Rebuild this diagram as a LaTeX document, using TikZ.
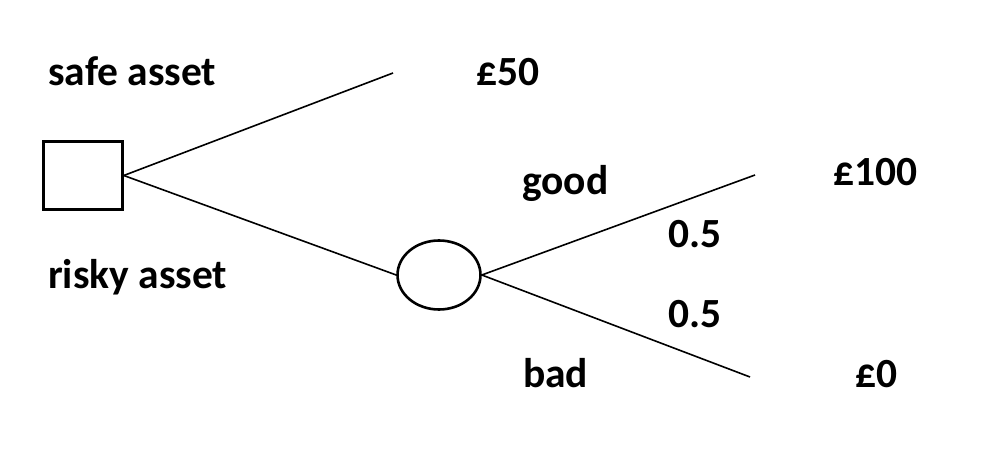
\documentclass[tikz,border=0pt]{standalone}
\usepackage{fontspec}
\setmainfont{Carlito}
\usetikzlibrary{shapes.geometric}
\begin{document}
\begin{tikzpicture}[x=1pt,y=-1pt,
  lbl/.style={anchor=base west,inner sep=0pt,font=\fontsize{41.5}{48}\selectfont\bfseries},
  branch/.style={line width=1.6pt},
  decision/.style={draw,line width=2.6pt,rectangle,minimum width=79pt,minimum height=68pt,inner sep=0pt},
  chance/.style={draw,line width=2.6pt,ellipse,minimum width=83pt,minimum height=69pt,inner sep=0pt}]
\useasboundingbox (0,0) rectangle (990,454);
\fill[white] (0,0) rectangle (990,454);
\node[decision] (sq) at (83,175.5) {};
\node[chance] (ch) at (439,275) {};
\coordinate (s50) at (393,73);
\coordinate (e100) at (755,175);
\coordinate (e0) at (750,377);
\draw[branch] (sq.east) -- (s50);
\draw[branch] (sq.east) -- (ch.west);
\draw[branch] (ch.east) -- (e100);
\draw[branch] (ch.east) -- (e0);
\node[lbl] (t1) at (48,86) {safe asset};
\node[lbl] (t2) at (48,288) {risky asset};
\node[lbl] (t3) at (476,86) {£50};
\node[lbl] (t4) at (522,195) {good};
\node[lbl] (t5) at (833,186) {£100};
\node[lbl] (t6) at (668,248) {0.5};
\node[lbl] (t7) at (668,327) {0.5};
\node[lbl] (t8) at (523,387) {bad};
\node[lbl] (t9) at (855,387) {£0};
\end{tikzpicture}
\end{document}
